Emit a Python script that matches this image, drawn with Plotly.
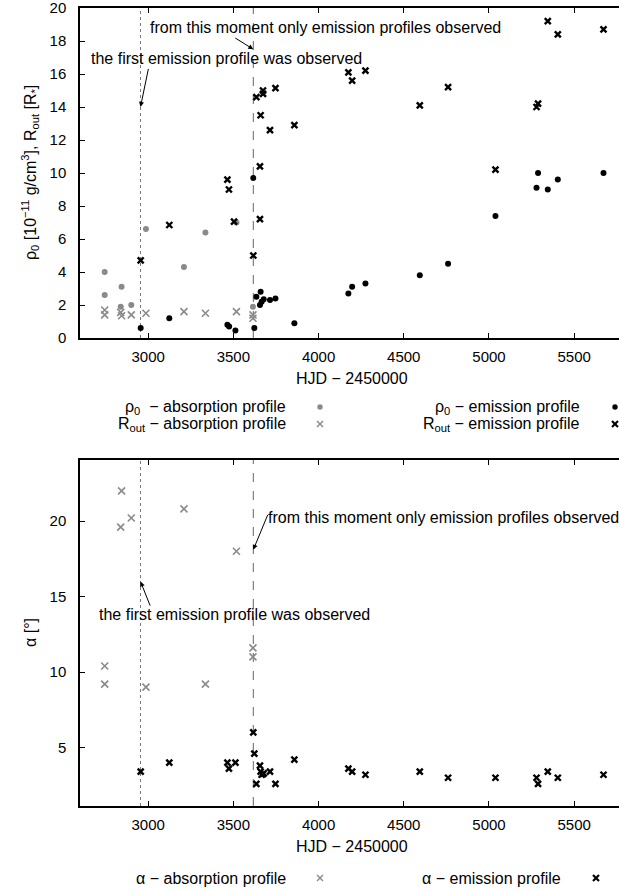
import plotly.graph_objects as go

# ---------------- data ----------------
# top panel: rho0 and R_out
abs_rho_hjd = [2745, 2745, 2844, 2839, 2901, 2987, 3210, 3336, 3518, 3615]
abs_rho_val = [4.0, 2.6, 3.1, 1.9, 2.0, 6.6, 4.3, 6.4, 7.0, 1.9]

abs_rout_hjd = [2745, 2745, 2839, 2844, 2901, 2987, 3210, 3336, 3518, 3615, 3615]
abs_rout_val = [1.7, 1.4, 1.55, 1.35, 1.4, 1.5, 1.6, 1.5, 1.6, 1.4, 1.2]

em_rho_hjd = [2956, 3124, 3465, 3475, 3512, 3617, 3623, 3635, 3660, 3656, 3666, 3678,
              3715, 3747, 3858, 4175, 4197, 4275, 4594, 4760, 5038, 5279, 5288, 5345,
              5404, 5672]
em_rho_val = [0.6, 1.2, 0.8, 0.7, 0.45, 9.7, 0.6, 2.5, 2.8, 2.0, 2.2, 2.35,
              2.3, 2.4, 0.9, 2.7, 3.1, 3.3, 3.8, 4.5, 7.4, 9.1, 10.0, 9.0,
              9.6, 10.0]

em_rout_hjd = [2956, 3124, 3465, 3474, 3504, 3617, 3635, 3656, 3656, 3660, 3674, 3674,
               3715, 3747, 3858, 4175, 4197, 4275, 4594, 4760, 5038, 5279, 5288, 5345,
               5404, 5672]
em_rout_val = [4.7, 6.85, 9.6, 9.0, 7.05, 5.0, 14.6, 10.4, 7.2, 13.5, 15.0, 14.8,
               12.6, 15.15, 12.9, 16.1, 15.6, 16.2, 14.1, 15.2, 10.2, 14.0, 14.2, 19.2,
               18.4, 18.7]

# bottom panel: alpha
abs_alpha_hjd = [2745, 2745, 2844, 2839, 2901, 2987, 3210, 3336, 3518, 3615, 3615]
abs_alpha_val = [10.4, 9.2, 22.0, 19.6, 20.2, 9.0, 20.8, 9.2, 18.0, 11.6, 11.0]

em_alpha_hjd = [2956, 3124, 3465, 3474, 3512, 3617, 3623, 3635, 3656, 3660, 3666, 3674,
                3678, 3715, 3747, 3858, 4175, 4197, 4275, 4594, 4760, 5038, 5279, 5288,
                5345, 5404, 5672]
em_alpha_val = [3.4, 4.0, 4.0, 3.6, 4.0, 6.0, 4.6, 2.6, 3.8, 3.4, 3.2, 3.25,
                3.3, 3.4, 2.6, 4.2, 3.6, 3.4, 3.2, 3.4, 3.0, 3.0, 3.0, 2.6,
                3.4, 3.0, 3.2]

first_emission_hjd = 2955
only_emission_hjd = 3617

x_ticks = [3000, 3500, 4000, 4500, 5000, 5500]
top_y_ticks = [0, 2, 4, 6, 8, 10, 12, 14, 16, 18, 20]
bot_y_ticks = [5, 10, 15, 20]

# ---------------- style ----------------
W, H = 619, 892
L, R, T, B = 80, 0, 8, 86
PW, PH = W - L - R, H - T - B
FONT = "Liberation Sans, Arial, Helvetica, sans-serif"
GRAY = "#8a8a8a"


def px(xp):
    return (xp - L) / PW


def py(yp):
    return (H - B - yp) / PH


fig = go.Figure()

gray_dot = dict(symbol="circle", size=6, color=GRAY)
gray_x = dict(symbol="x-thin", size=7, line=dict(width=1.6, color=GRAY))
black_dot = dict(symbol="circle", size=6, color="black")
black_x = dict(symbol="x-thin", size=6, line=dict(width=2.4, color="black"))

fig.add_trace(go.Scatter(x=abs_rho_hjd, y=abs_rho_val, mode="markers", marker=gray_dot,
                         xaxis="x", yaxis="y", showlegend=False))
fig.add_trace(go.Scatter(x=abs_rout_hjd, y=abs_rout_val, mode="markers", marker=gray_x,
                         xaxis="x", yaxis="y", showlegend=False))
fig.add_trace(go.Scatter(x=em_rho_hjd, y=em_rho_val, mode="markers", marker=black_dot,
                         xaxis="x", yaxis="y", showlegend=False))
fig.add_trace(go.Scatter(x=em_rout_hjd, y=em_rout_val, mode="markers", marker=black_x,
                         xaxis="x", yaxis="y", showlegend=False))
fig.add_trace(go.Scatter(x=abs_alpha_hjd, y=abs_alpha_val, mode="markers", marker=gray_x,
                         xaxis="x2", yaxis="y2", showlegend=False))
fig.add_trace(go.Scatter(x=em_alpha_hjd, y=em_alpha_val, mode="markers", marker=black_x,
                         xaxis="x2", yaxis="y2", showlegend=False))

shapes = []
# vertical reference lines
for xr, yref in [("x", "y domain"), ("x2", "y2 domain")]:
    shapes.append(dict(type="line", xref=xr, yref=yref, x0=first_emission_hjd, x1=first_emission_hjd,
                       y0=0, y1=1, line=dict(color="#777777", width=1, dash="dot"), layer="below"))
    shapes.append(dict(type="line", xref=xr, yref=yref, x0=only_emission_hjd, x1=only_emission_hjd,
                       y0=0, y1=1, line=dict(color="#666666", width=1, dash="dash"), layer="below"))

axis_common = dict(
    showgrid=False, zeroline=False, showline=True, linecolor="black", linewidth=1.5,
    ticks="inside", ticklen=5, tickwidth=1, tickcolor="black", automargin=False,
    ticklabeloverflow="allow",
    tickfont=dict(family=FONT, size=15, color="black"),
)
x_range = [2600, 5763]
fig.update_layout(
    width=W, height=H, margin=dict(l=L, r=R, t=T, b=B, autoexpand=False),
    paper_bgcolor="white", plot_bgcolor="white",
    font=dict(family=FONT, size=16, color="black"),
    xaxis=dict(axis_common, domain=[0, 1], anchor="y", range=x_range, tickvals=x_ticks,
               mirror="ticks", ticklabelstandoff=4),
    yaxis=dict(axis_common, domain=[py(338), 1], anchor="x", range=[0, 20.001],
               tickvals=top_y_ticks, ticklabelstandoff=9),
    xaxis2=dict(axis_common, domain=[0, 1], anchor="y2", range=x_range, tickvals=x_ticks,
                mirror="ticks", ticklabelstandoff=4),
    yaxis2=dict(axis_common, domain=[0, py(460)], anchor="x2", range=[1.13, 24.04],
                tickvals=bot_y_ticks, ticklabelstandoff=9),
)

ann = []
txt = dict(family=FONT, size=16, color="black")

# top panel labels + arrows
ann.append(dict(xref="x", yref="y", x=3003, y=18.8, text="from this moment only emission profiles observed",
                showarrow=False, xanchor="left", yanchor="middle", font=txt, borderpad=0))
ann.append(dict(xref="x", yref="y", x=only_emission_hjd, y=17.5, ax=3502, ay=18.24,
                axref="x", ayref="y", text="", showarrow=True, arrowhead=2, arrowsize=1,
                arrowwidth=1, arrowcolor="black"))
ann.append(dict(xref="x", yref="y", x=2657, y=16.97, text="the first emission profile was observed",
                showarrow=False, xanchor="left", yanchor="middle", font=txt, borderpad=0))
ann.append(dict(xref="x", yref="y", x=first_emission_hjd, y=14.0, ax=3003, ay=16.4,
                axref="x", ayref="y", text="", showarrow=True, arrowhead=2, arrowsize=1,
                arrowwidth=1, arrowcolor="black"))

# bottom panel labels + arrows
ann.append(dict(xref="x2", yref="y2", x=3700, y=20.26, text="from this moment only emission profiles observed",
                showarrow=False, xanchor="left", yanchor="middle", font=txt, borderpad=0))
ann.append(dict(xref="x2", yref="y2", x=only_emission_hjd, y=18.1, ax=3705, ay=20.5,
                axref="x2", ayref="y2", text="", showarrow=True, arrowhead=2, arrowsize=1,
                arrowwidth=1, arrowcolor="black"))
ann.append(dict(xref="x2", yref="y2", x=2704, y=13.8, text="the first emission profile was observed",
                showarrow=False, xanchor="left", yanchor="middle", font=txt, borderpad=0))
ann.append(dict(xref="x2", yref="y2", x=first_emission_hjd, y=16.0, ax=3015, ay=14.3,
                axref="x2", ayref="y2", text="", showarrow=True, arrowhead=2, arrowsize=1,
                arrowwidth=1, arrowcolor="black"))

# axis titles
ann.append(dict(xref="paper", yref="paper", x=px(352), y=py(378), text="HJD − 2450000",
                showarrow=False, xanchor="center", yanchor="middle", font=txt))
ann.append(dict(xref="paper", yref="paper", x=px(352), y=py(846), text="HJD − 2450000",
                showarrow=False, xanchor="center", yanchor="middle", font=txt))
ann.append(dict(xref="paper", yref="paper", x=px(30), y=py(173),
                text="ρ<sub>0</sub> [10<sup>−11</sup> g/cm<sup>3</sup>], R<sub>out</sub> [R<sub>*</sub>]",
                showarrow=False, xanchor="center", yanchor="middle", textangle=-90, font=txt))
ann.append(dict(xref="paper", yref="paper", x=px(30), y=py(633), text="α [°]",
                showarrow=False, xanchor="center", yanchor="middle", textangle=-90, font=txt))


# keys: text right-aligned, then a sample marker drawn as shapes
def key(text, x_end, x_mark, y, kind, color):
    ann.append(dict(xref="paper", yref="paper", x=px(x_end), y=py(y), text=text, showarrow=False,
                    xanchor="right", yanchor="middle", font=txt))
    if kind == "dot":
        r = 2.7
        shapes.append(dict(type="circle", xref="paper", yref="paper",
                           x0=px(x_mark - r), x1=px(x_mark + r), y0=py(y + r), y1=py(y - r),
                           fillcolor=color, line=dict(width=0)))
    else:
        d = 3.0
        w = 2.2 if color == "black" else 1.4
        for s in (1, -1):
            shapes.append(dict(type="line", xref="paper", yref="paper",
                               x0=px(x_mark - d), x1=px(x_mark + d),
                               y0=py(y - s * d), y1=py(y + s * d),
                               line=dict(color=color, width=w)))


key("ρ<sub>0</sub>  − absorption profile", 288, 320, 407, "dot", GRAY)
key("R<sub>out</sub> − absorption profile", 288, 320, 424, "x", GRAY)
key("ρ<sub>0</sub> − emission profile", 582, 615, 407, "dot", "black")
key("R<sub>out</sub> − emission profile", 582, 615, 424, "x", "black")
key("α − absorption profile", 288, 320, 878, "x", GRAY)
key("α − emission profile", 563, 596, 878, "x", "black")

fig.update_layout(annotations=ann, shapes=shapes)
fig.write_html(
    "out.html",
    config={"displayModeBar": False},
    post_script="document.body.style.margin='0px';document.body.style.overflow='hidden';"
                "document.documentElement.style.overflow='hidden';",
)
